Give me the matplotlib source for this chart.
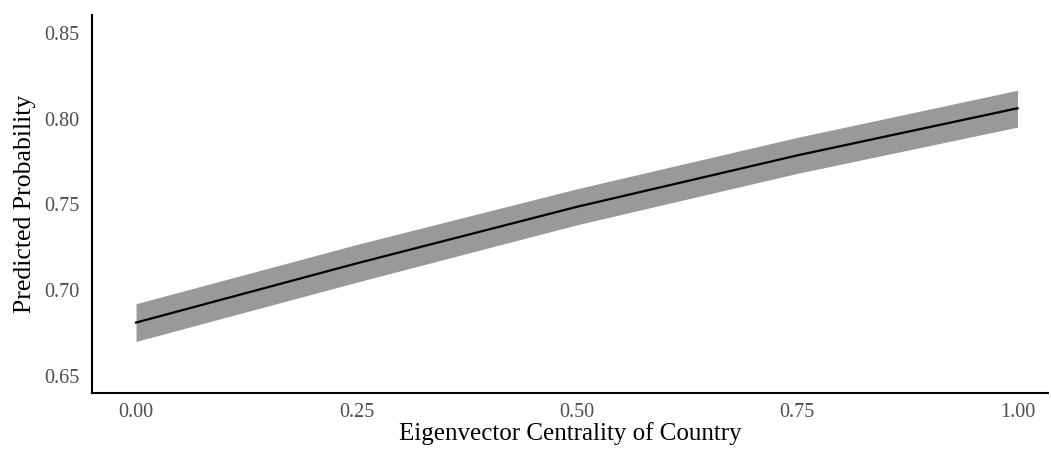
import matplotlib.pyplot as plt
import numpy as np

# predicted probability and 95% band
centrality = [0.0, 0.25, 0.5, 0.75, 1.0]
predicted = [0.681, 0.7155, 0.7485, 0.7785, 0.806]
lower = [0.670, 0.7045, 0.738, 0.768, 0.795]
upper = [0.692, 0.7265, 0.759, 0.789, 0.8165]
xticks = [0.0, 0.25, 0.5, 0.75, 1.0]
yticks = [0.65, 0.70, 0.75, 0.80, 0.85]

plt.rcParams['font.family'] = ['Liberation Serif', 'DejaVu Serif']

fig = plt.figure(figsize=(10.51, 4.49), dpi=100)
ax = fig.add_axes([0.0875, 0.125, 0.91, 0.842])

ax.fill_between(centrality, lower, upper, color='#999999', lw=0)
ax.plot(centrality, predicted, color='black', lw=1.6)

ax.set_xlim(-0.05, 1.035)
ax.set_ylim(0.640, 0.8605)
ax.set_xticks(xticks)
ax.set_xticklabels(['%.2f' % v for v in xticks])
ax.set_yticks(yticks)
ax.set_yticklabels(['%.2f' % v for v in yticks])
ax.tick_params(axis='x', length=0, labelsize=14.5, labelcolor='#4d4d4d', pad=7)
ax.tick_params(axis='y', length=0, labelsize=14.5, labelcolor='#4d4d4d', pad=9)

for s in ['top', 'right']:
    ax.spines[s].set_visible(False)
for s in ['left', 'bottom']:
    ax.spines[s].set_linewidth(1.5)

ax.set_xlabel('Eigenvector Centrality of Country', fontsize=18, labelpad=0)
ax.set_ylabel('Predicted Probability', fontsize=18.5, labelpad=6)

plt.savefig('out.png', dpi=100)
